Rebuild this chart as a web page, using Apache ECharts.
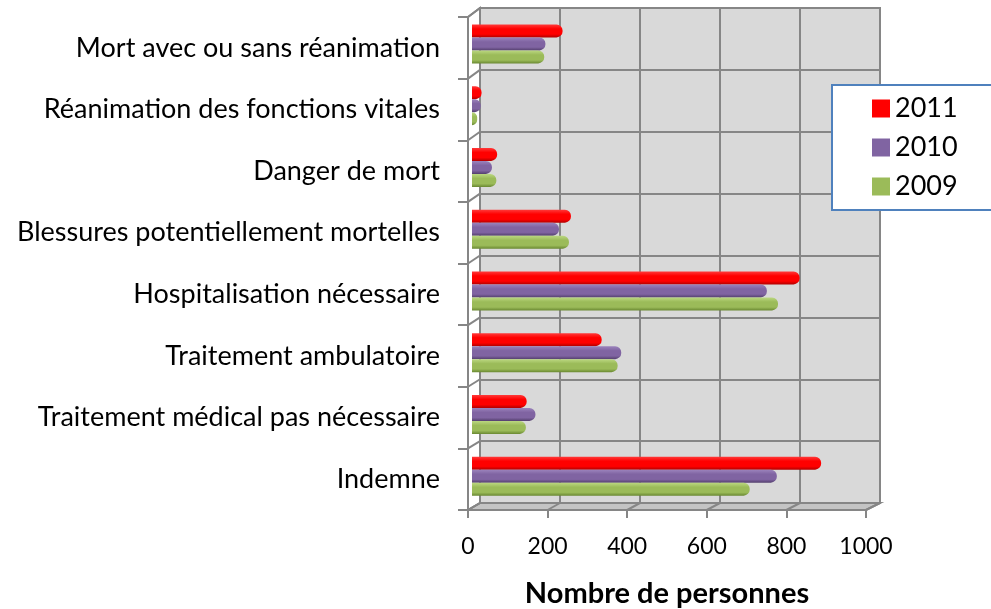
<!DOCTYPE html>
<html>
<head>
<meta charset="utf-8">
<script src="https://cdn.jsdelivr.net/npm/echarts@6/dist/echarts.min.js"></script>
<style>
  html, body { margin: 0; padding: 0; background: #fff; }
  #chart { width: 991px; height: 609px; }
</style>
</head>
<body>
<div id="chart"></div>
<script>
// categories, bottom to top
var categories = [
  'Indemne',
  'Traitement médical pas nécessaire',
  'Traitement ambulatoire',
  'Hospitalisation nécessaire',
  'Blessures potentiellement mortelles',
  'Danger de mort',
  'Réanimation des fonctions vitales',
  'Mort avec ou sans réanimation'
];
var years = ['2011', '2010', '2009'];
var values2011 = [875, 137, 325, 821, 248, 63, 24, 227];
var values2010 = [764, 159, 374, 739, 218, 50, 22, 184];
var values2009 = [696, 135, 365, 767, 243, 61, 13, 181];
var xTicks = [0, 200, 400, 600, 800, 1000];

var FONT = 'Lato';
var W = 991, H = 609;
var GRAY = '#868686';

// pseudo 3D box: front plane (axes), bar plane, back wall
var FRONT = { left: 468, top: 17, right: 866, bottom: 510 };
var BARS = { left: 472, top: 13, right: 871, bottom: 507 };
var BACK = { left: 480, top: 8, right: 880, bottom: 503 };

function gridOf(b, extra) {
  var g = { left: b.left, top: b.top, right: W - b.right, bottom: H - b.bottom, outerBoundsMode: 'none' };
  for (var k in extra) g[k] = extra[k];
  return g;
}

function cyl(light, base, dark) {
  return new echarts.graphic.LinearGradient(0, 0, 0, 1, [
    { offset: 0, color: light },
    { offset: 0.35, color: base },
    { offset: 0.75, color: base },
    { offset: 1, color: dark }
  ]);
}

var styles = {
  '2011': { legend: '#ff0000', fill: cyl('#ff3b3b', '#ff0000', '#b30000') },
  '2010': { legend: '#8064a2', fill: cyl('#9c84bd', '#8064a2', '#55406f') },
  '2009': { legend: '#9bbb59', fill: cyl('#bcd882', '#9bbb59', '#6b8a33') }
};

var seriesData = { '2011': values2011, '2010': values2010, '2009': values2009 };

var chart = echarts.init(document.getElementById('chart'));
chart.setOption({
  animation: false,
  textStyle: { fontFamily: FONT },
  grid: [
    gridOf(FRONT, {}),
    gridOf(BACK, { show: true, backgroundColor: '#d9d9d9', borderColor: GRAY, borderWidth: 2 }),
    gridOf(BARS, {})
  ],
  legend: {
    data: years.map(function (y) {
      return { name: y, itemStyle: { color: styles[y].legend } };
    }),
    orient: 'vertical',
    left: 832,
    top: 85,
    padding: [10, 80, 10, 40],
    itemWidth: 18,
    itemHeight: 18,
    itemGap: 12,
    backgroundColor: '#fff',
    borderColor: '#4f81bd',
    borderWidth: 2,
    textStyle: { fontSize: 27, color: '#000', fontFamily: FONT },
    icon: 'rect',
    z: 10
  },
  xAxis: [{
    gridIndex: 0,
    type: 'value',
    min: 0, max: 1000, interval: 200,
    z: 5,
    name: 'Nombre de personnes',
    nameLocation: 'middle',
    nameGap: 69,
    nameTextStyle: { fontSize: 29, fontWeight: 'bold', color: '#000', fontFamily: FONT },
    axisLine: { show: true, lineStyle: { color: GRAY, width: 2 } },
    axisTick: { show: true, length: 8, lineStyle: { color: GRAY, width: 2 } },
    axisLabel: {
      margin: 25, fontSize: 23, color: '#000',
      formatter: function (v) { return xTicks.indexOf(v) >= 0 ? String(v) : ''; }
    },
    splitLine: { show: false }
  }, {
    gridIndex: 1,
    type: 'value',
    min: 0, max: 1000, interval: 200,
    axisLine: { show: false }, axisTick: { show: false }, axisLabel: { show: false },
    splitLine: { show: true, lineStyle: { color: GRAY, width: 2 } }
  }, {
    gridIndex: 2,
    type: 'value',
    min: 0, max: 1000,
    show: false
  }],
  yAxis: [{
    gridIndex: 0,
    type: 'category',
    data: categories,
    z: 5,
    axisLine: { show: true, lineStyle: { color: GRAY, width: 2 } },
    axisTick: { show: true, length: 10, lineStyle: { color: GRAY, width: 2 } },
    axisLabel: { margin: 28, fontSize: 27, color: '#000' },
    splitLine: { show: false }
  }, {
    gridIndex: 1,
    type: 'category',
    data: categories,
    axisLine: { show: false }, axisTick: { show: false }, axisLabel: { show: false },
    splitLine: { show: true, lineStyle: { color: GRAY, width: 2 } }
  }, {
    gridIndex: 2,
    type: 'category',
    data: categories,
    show: false
  }],
  series: years.map(function (y) {
    return {
      name: y,
      type: 'bar',
      xAxisIndex: 2,
      yAxisIndex: 2,
      data: seriesData[y],
      barWidth: 13,
      barGap: '0%',
      z: 4,
      itemStyle: {
        color: styles[y].fill,
        borderRadius: [0, 6, 6, 0]
      }
    };
  })
});

// floor and left wall of the box, joining the front axes to the back wall
var frame = [];
frame.push({
  type: 'polygon', z: 1, silent: true,
  shape: { points: [[FRONT.left, FRONT.bottom], [FRONT.right, FRONT.bottom], [BACK.right, BACK.bottom], [BACK.left, BACK.bottom]] },
  style: { fill: '#c4c4c4', stroke: GRAY, lineWidth: 2 }
});
frame.push({
  type: 'polyline', z: 1, silent: true,
  shape: { points: [[FRONT.left, FRONT.top], [BACK.left, BACK.top], [BACK.left, BACK.bottom]] },
  style: { fill: null, stroke: GRAY, lineWidth: 2 }
});
xTicks.forEach(function (v) {
  var fx = chart.convertToPixel({ xAxisIndex: 0 }, v);
  var bx = chart.convertToPixel({ xAxisIndex: 1 }, v);
  frame.push({
    type: 'line', z: 1, silent: true,
    shape: { x1: fx, y1: FRONT.bottom, x2: bx, y2: BACK.bottom },
    style: { stroke: GRAY, lineWidth: 2 }
  });
});
for (var i = 0; i <= categories.length; i++) {
  var fy = FRONT.top + (FRONT.bottom - FRONT.top) * i / categories.length;
  var by = BACK.top + (BACK.bottom - BACK.top) * i / categories.length;
  frame.push({
    type: 'line', z: 1, silent: true,
    shape: { x1: FRONT.left, y1: fy, x2: BACK.left, y2: by },
    style: { stroke: GRAY, lineWidth: 2 }
  });
}
chart.setOption({ graphic: frame });
</script>
</body>
</html>
